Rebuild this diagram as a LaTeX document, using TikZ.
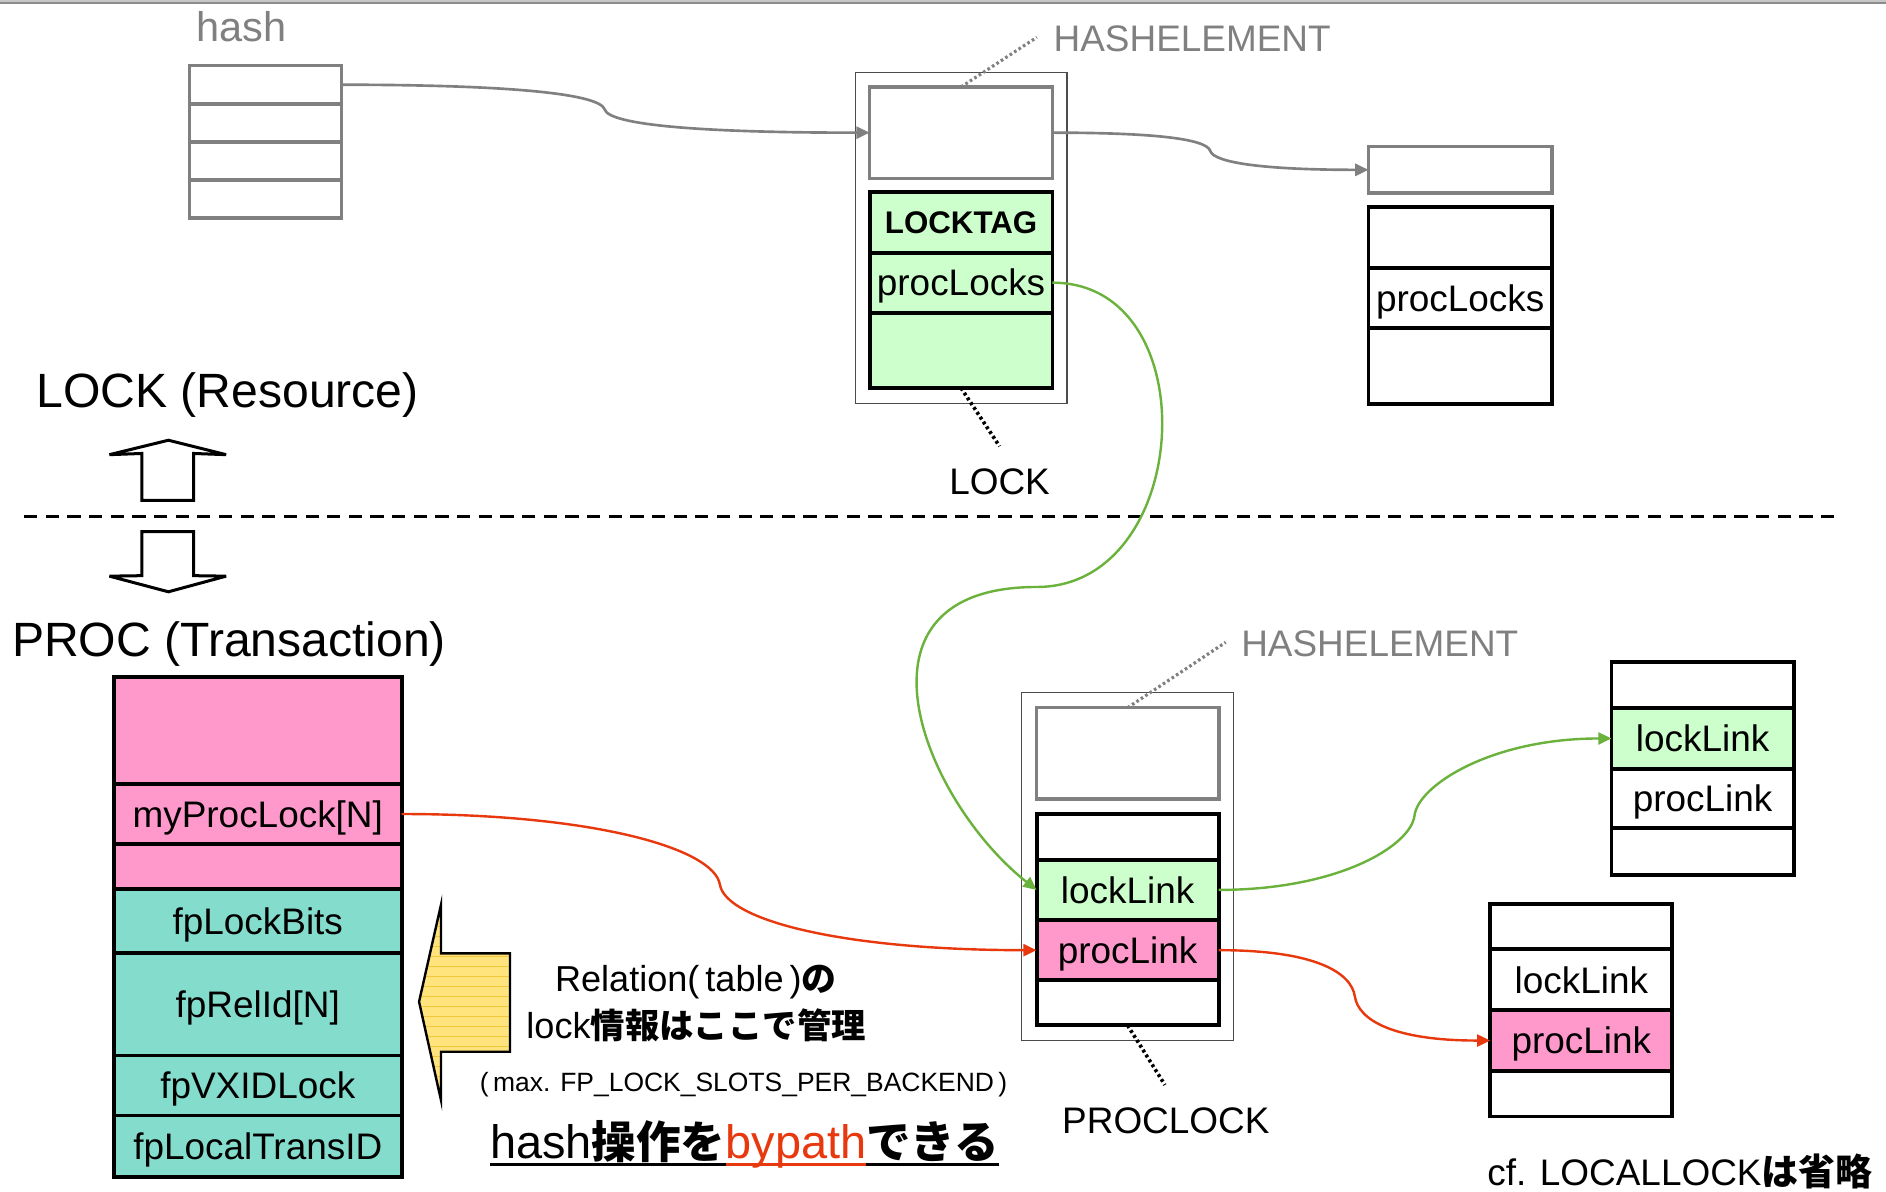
\documentclass[tikz,border=0pt]{standalone}
\usepackage{fontspec}
\setmainfont{Liberation Sans}
\newfontfamily\cjk{Noto Sans CJK JP}
\usetikzlibrary{arrows.meta,calc}

\definecolor{lgreen}{HTML}{CCFFCC}
\definecolor{lpink}{HTML}{FF99CC}
\definecolor{lteal}{HTML}{84DCCC}
\definecolor{linkgreen}{HTML}{6AB23C}
\definecolor{linkred}{HTML}{E8380E}
\definecolor{hgray}{HTML}{808080}
\definecolor{yel}{HTML}{FFE47E}
\definecolor{yelline}{HTML}{F2C83A}

% font size shortcut, bold Japanese text, coloured underline segment
\newcommand\fs[1]{\fontsize{#1}{#1}\selectfont}
\newcommand\jb[1]{{\cjk\bfseries #1}}
\newcommand\ulseg[2]{{\setbox0\hbox{{#2}}\rlap{{\color{#1}\rule[-6.2pt]{\wd0}{2.5pt}}}\box0}}

\tikzset{
  every node/.style={inner sep=0pt, outer sep=0pt},
  sz/.style 2 args={minimum width=#1, minimum height=#2},
  cell/.style={draw=black, line width=3.2pt, fill=white, font={\fs{30.7}},
               text height=22pt, text depth=0pt},
  gbox/.style={draw=hgray, line width=3pt, fill=white},
  frame/.style={draw=black!70, line width=1pt},
  lbl/.style={font={\fs{30.7}}, anchor=base west},
  glink/.style={draw=hgray, line width=2.2pt, -{Triangle[length=11pt,width=10pt]}},
  link/.style={line width=2pt, -{Triangle[length=11pt,width=10pt]}},
  dotb/.style={draw=black, line width=3pt, dash pattern=on 2.4pt off 2.4pt},
  dotg/.style={draw=hgray, line width=2.6pt, dash pattern=on 2.2pt off 2.2pt},
  hollow/.style={draw=black, line width=2.5pt, fill=white, line join=miter, miter limit=2.5},
}

\begin{document}
\begin{tikzpicture}[x=1pt,y=-1pt]
\useasboundingbox (0,0) rectangle (1568,991);
\fill[white] (0,0) rectangle (1568,991);
% top rule
\fill[black!22] (0,0) rectangle (1568,1.4);
\draw[black!45, line width=1.6pt] (0,2.8) -- (1568,2.8);

% ---------- hash table ----------
\node[font={\fs{34.5}}, text=hgray, anchor=base] (hashlbl) at (200.5,34.5) {hash};
\foreach \i/\yy in {1/70.45,2/102.15,3/133.85,4/165.55}
  \node[gbox, sz={126.5}{31.7}] (h\i) at (220.75,\yy) {};

% ---------- LOCK entry ----------
\node[frame, sz={176}{275.6}] (lockfr) at (799,197.8) {};
\node[gbox, sz={152}{76}] (lkhe) at (799,110.3) {};
\node[cell, fill=lgreen, sz={152}{50.7}, font={\fs{26}\bfseries}, text height=19pt] (lktag) at (799,184.75) {LOCKTAG};
\node[cell, fill=lgreen, sz={152}{50}] (lkpl) at (799,235) {procLocks};
\node[cell, fill=lgreen, sz={152}{62.6}] (lkrest) at (799,291.3) {};

\node[lbl, text=hgray] (he1) at (876,42.7) {HASHELEMENT};
\coordinate (he1end) at (862,31);
\draw[dotg] (lkhe.north) -- (he1end);
\node[lbl, anchor=base] (locklbl) at (831,411) {LOCK};
\coordinate (lockend) at (831,371);
\draw[dotb] (lkrest.south) -- (lockend);

% ---------- next LOCK entry ----------
\node[gbox, sz={152.6}{38.6}] (rhe) at (1214,141.2) {};
\node[cell, sz={152.6}{50.5}] (r1) at (1214,197.55) {};
\node[cell, sz={152.6}{50.2}] (r2) at (1214,247.9) {procLocks};
\node[cell, sz={152.6}{62.9}] (r3) at (1214,304.45) {};

% hash chain
\coordinate (gk1) at (502.7,91);
\draw[glink] (h1.east) .. controls +(140,0) and +(-4,-13) .. (gk1)
                       .. controls +(4,13) and +(-140,0) .. (lkhe.west);
\coordinate (gk2) at (1006.2,125.5);
\draw[glink] (lkhe.east) .. controls +(85,0) and +(-3,-10) .. (gk2)
                         .. controls +(3,10) and +(-85,0) .. (rhe.west);

% ---------- section titles and separator ----------
\node[font={\fs{40}}, anchor=base west] (restitle) at (30.3,339.2) {LOCK (Resource)};
\node[font={\fs{40}}, anchor=base west] (proctitle) at (10,545.5) {PROC (Transaction)};
\draw[line width=2.5pt, dash pattern=on 11pt off 7pt] (20,429.6) -- (1530,429.6);
\draw[hollow] (140,366) -- (188,378) -- (161,377) -- (161,416) -- (118,416) -- (118,377) -- (91,378) -- cycle;
\draw[hollow] (118,442) -- (161,442) -- (161,478.6) -- (188,479) -- (140,492) -- (91,479) -- (118,478.6) -- cycle;

% ---------- PROC ----------
\node[cell, fill=lpink, sz={239.4}{89.2}] (p0) at (214.3,607.3) {};
\node[cell, fill=lpink, sz={239.4}{49.7}] (pmy) at (214.3,676.75) {myProcLock[N]};
\node[cell, fill=lpink, sz={239.4}{37.6}] (p2) at (214.3,720.4) {};
\node[cell, fill=lteal, sz={239.4}{52.9}] (pbits) at (214.3,765.65) {fpLockBits};
\node[cell, fill=lteal, sz={239.4}{85.4}] (prel) at (214.3,834.8) {fpRelId[N]};
\node[cell, fill=lteal, sz={239.4}{49.9}] (pvx) at (214.3,902.45) {fpVXIDLock};
\node[cell, fill=lteal, sz={239.4}{51.3}] (plt) at (214.3,953.05) {fpLocalTransID};

% fast-path arrow
\begin{scope}
  \clip (366.6,752.4) -- (366.6,792.6) -- (424,792.6) -- (424,874.4) -- (366.6,874.4) -- (366.6,914.5) -- (348.4,832.8) -- cycle;
  \fill[yel] (340,745) rectangle (430,920);
  \foreach \k in {0,...,19}
    \draw[yelline, line width=0.8pt] (340,{753.9+8.31*\k}) -- (430,{753.9+8.31*\k});
\end{scope}
\draw[line width=2pt, line join=miter] (366.6,752.4) -- (366.6,792.6) -- (424,792.6) -- (424,874.4) -- (366.6,874.4) -- (366.6,914.5) -- (348.4,832.8) -- cycle;

\node[font={\fs{30}}, anchor=base west] (note1) at (461.5,824.5) {Relation(\,table\,)\jb{\fs{29}の}};
\node[font={\fs{30}}, anchor=base west] (note2) at (437.7,863) {lock\jb{\fs{28.6}情報はここで管理}};
\node[font={\fs{22}}, anchor=base west] (note3) at (399,907.5) {(\,max. FP\_LOCK\_SLOTS\_PER\_BACKEND\,)};
\node[font={\fs{39}}, anchor=base west] (note4) at (407.6,963)
  {\ulseg{black}{hash}\ulseg{black}{\fs{37}\jb{操作を}}\ulseg{linkred}{\color{linkred}bypath}\ulseg{black}{\fs{37}\jb{できる}}};

% ---------- PROCLOCK entry ----------
\node[frame, sz={176.2}{289.3}] (plfr) at (937.5,720.35) {};
\node[gbox, sz={151.4}{76}] (plhe) at (937.5,626.3) {};
\node[cell, sz={151.4}{37.9}] (pl1) at (937.5,695.75) {};
\node[cell, fill=lgreen, sz={151.4}{50.3}] (pllk) at (937.5,739.85) {lockLink};
\node[cell, fill=lpink, sz={151.4}{49.9}] (plpl) at (937.5,789.95) {procLink};
\node[cell, sz={151.4}{37.6}] (pl4) at (937.5,833.7) {};

\node[lbl, text=hgray] (he2) at (1032,546) {HASHELEMENT};
\coordinate (he2end) at (1019,534);
\draw[dotg] (plhe.north) -- (he2end);
\node[lbl] (pllbl) at (883.1,942) {PROCLOCK};
\coordinate (plend) at (968.5,902);
\draw[dotb] (pl4.south) -- (plend);

% neighbour on the lock's list
\node[cell, sz={151.4}{38.3}] (a1) at (1415.5,569.75) {};
\node[cell, fill=lgreen, sz={151.4}{50.1}] (alk) at (1415.5,613.95) {lockLink};
\node[cell, sz={151.4}{49.7}] (apl) at (1415.5,663.85) {procLink};
\node[cell, sz={151.4}{38.6}] (a4) at (1415.5,708) {};

% neighbour on the proc's list
\node[cell, sz={151.4}{37.7}] (b1) at (1314.7,770.35) {};
\node[cell, sz={151.4}{50.8}] (blk) at (1314.7,814.6) {lockLink};
\node[cell, fill=lpink, sz={151.4}{50.2}] (bpl) at (1314.7,865.1) {procLink};
\node[cell, sz={151.4}{38}] (b4) at (1314.7,909.2) {};

\node[lbl] (cfnote) at (1236.5,985.3) {cf. LOCALLOCK\jb{は省略}};

% ---------- links ----------
\coordinate (gm) at (862,488);
\draw[link, linkgreen] (lkpl.east) .. controls +(130,0) and +(130,0) .. (gm)
                       .. controls +(-165,0) and +(-95,-75) .. (pllk.west);
\coordinate (gk3) at (1176,678);
\draw[link, linkgreen] (pllk.east) .. controls +(100,0) and +(-3,25) .. (gk3)
                       .. controls +(3,-25) and +(-100,0) .. (alk.west);
\coordinate (rk1) at (598.5,735.4);
\draw[link, linkred] (pmy.east) .. controls +(160,0) and +(-5,-30) .. (rk1)
                     .. controls +(5,30) and +(-160,0) .. (plpl.west);
\coordinate (rk2) at (1126.4,828.4);
\draw[link, linkred] (plpl.east) .. controls +(80,0) and +(-3,-20) .. (rk2)
                     .. controls +(3,20) and +(-80,0) .. (bpl.west);
\end{tikzpicture}
\end{document}
